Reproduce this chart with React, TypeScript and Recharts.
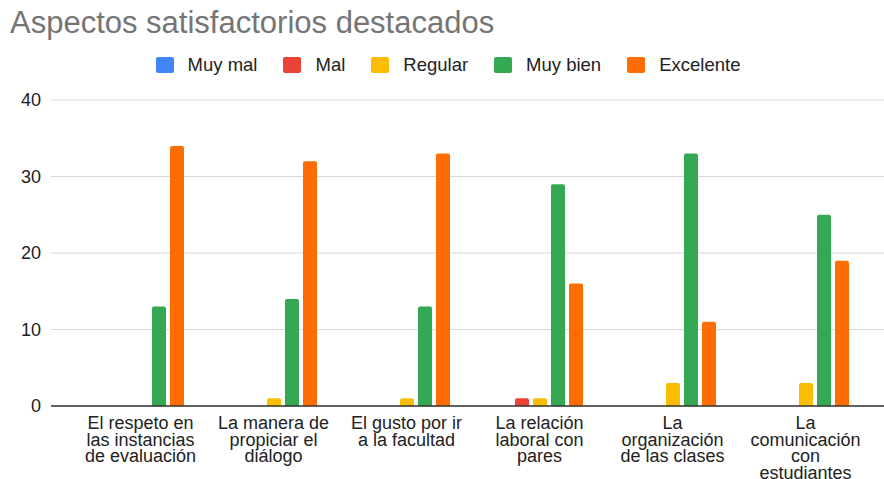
import { BarChart, Bar, XAxis, YAxis, CartesianGrid, Legend } from 'recharts';

const categories = [
    'El respeto en las instancias de evaluación',
    'La manera de propiciar el diálogo',
    'El gusto por ir a la facultad',
    'La relación laboral con pares',
    'La organización de las clases',
    'La comunicación con estudiantes',
];

// wrapped tick labels, as shown under each group
const tickLines = [
    ['El respeto en', 'las instancias', 'de evaluación'],
    ['La manera de', 'propiciar el', 'diálogo'],
    ['El gusto por ir', 'a la facultad'],
    ['La relación', 'laboral con', 'pares'],
    ['La', 'organización', 'de las clases'],
    ['La', 'comunicación', 'con', 'estudiantes'],
];

const muyMal = [0, 0, 0, 0, 0, 0];
const mal = [0, 0, 0, 1, 0, 0];
const regular = [0, 1, 1, 1, 3, 3];
const muyBien = [13, 14, 13, 29, 33, 25];
const excelente = [34, 32, 33, 16, 11, 19];

const yTicks = [0, 10, 20, 30, 40];

const series = [
    { key: 'muyMal', name: 'Muy mal', color: '#4285f4' },
    { key: 'mal', name: 'Mal', color: '#ea4335' },
    { key: 'regular', name: 'Regular', color: '#fbbc04' },
    { key: 'muyBien', name: 'Muy bien', color: '#34a853' },
    { key: 'excelente', name: 'Excelente', color: '#ff6d01' },
];

const data = categories.map((name, i) => ({
    name,
    muyMal: muyMal[i],
    mal: mal[i],
    regular: regular[i],
    muyBien: muyBien[i],
    excelente: excelente[i],
}));

const FONT = '"Liberation Sans", Arial, sans-serif';

function CategoryTick(props: any) {
    const { x, y, payload } = props;
    const lines = tickLines[payload.index] || [payload.value];
    return (
        <text x={x} y={y + 23} textAnchor="middle" fontSize={18} fill="#222" fontFamily={FONT}>
            {lines.map((line, i) => (
                <tspan key={i} x={x} dy={i === 0 ? 0 : 16.5}>
                    {line}
                </tspan>
            ))}
        </text>
    );
}

function LegendRow() {
    return (
        <div style={{ display: 'flex', justifyContent: 'center', alignItems: 'center', fontFamily: FONT, fontSize: 18.5, color: '#222', paddingLeft: 12 }}>
            {series.map((s) => (
                <div key={s.key} style={{ display: 'flex', alignItems: 'center', margin: '0 13px' }}>
                    <span style={{ width: 18, height: 16, background: s.color, borderRadius: 2, marginRight: 14, display: 'inline-block' }} />
                    <span style={{ lineHeight: '20px' }}>{s.name}</span>
                </div>
            ))}
        </div>
    );
}

export default function App() {
    return (
        <div style={{ position: 'absolute', left: 0, top: 0, width: 884, height: 479, background: '#fff' }}>
            <div
                style={{
                    position: 'absolute',
                    left: 10,
                    top: 8,
                    fontFamily: FONT,
                    fontSize: 31,
                    lineHeight: '30px',
                    color: '#757575',
                    whiteSpace: 'nowrap',
                }}
            >
                Aspectos satisfactorios destacados
            </div>
            <BarChart
                width={884}
                height={479}
                data={data}
                margin={{ top: 100, right: 0, left: 0, bottom: 0 }}
                barCategoryGap={24}
                barGap={4}
            >
                <CartesianGrid vertical={false} stroke="#d9d9d9" />
                <Legend
                    verticalAlign="middle"
                    layout="horizontal"
                    content={() => <LegendRow />}
                    wrapperStyle={{ top: 55, left: 0, width: 884 }}
                />
                <XAxis
                    dataKey="name"
                    interval={0}
                    height={73}
                    padding={{ left: 23, right: 12 }}
                    axisLine={{ stroke: '#333', strokeWidth: 1.5 }}
                    tickLine={false}
                    tickSize={0}
                    tickMargin={0}
                    tick={<CategoryTick />}
                />
                <YAxis
                    width={51}
                    domain={[0, 40]}
                    ticks={yTicks}
                    axisLine={false}
                    tickLine={false}
                    tickSize={0}
                    tickMargin={10}
                    tick={{ fill: '#222', fontSize: 18, fontFamily: FONT }}
                />
                {series.map((s) => (
                    <Bar
                        key={s.key}
                        dataKey={s.key}
                        name={s.name}
                        fill={s.color}
                        radius={[2, 2, 0, 0]}
                        isAnimationActive={false}
                    />
                ))}
            </BarChart>
        </div>
    );
}
